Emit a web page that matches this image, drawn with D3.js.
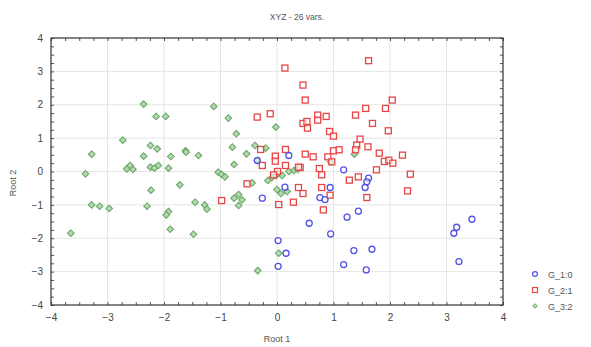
<!DOCTYPE html>
<html><head><meta charset="utf-8">
<script src="https://cdn.jsdelivr.net/npm/d3@7/dist/d3.min.js"></script>
<style>
html,body{margin:0;padding:0;background:#fff;}
svg{display:block;font-family:"Liberation Sans",Arial,sans-serif;}
</style></head>
<body><svg id="c" width="591" height="347"></svg>
<script>
const title = "XYZ - 26 vars.";
const xLabel = "Root 1";
const yLabel = "Root 2";
const xTicks = [-4,-3,-2,-1,0,1,2,3,4];
const yTicks = [-4,-3,-2,-1,0,1,2,3,4];
const groupNames = ["G_1:0","G_2:1","G_3:2"];

const g1x = [0.21,0.14,-0.26,0.57,0.02,0.16,0.02,1.18,1.62,1.59,1.56,0.94,0.76,0.85,1.44,1.24,0.95,1.36,1.68,1.18,1.58,3.45,3.18,3.13,3.22,-0.35];
const g1y = [0.48,-0.47,-0.80,-1.55,-2.07,-2.45,-2.84,0.05,-0.20,-0.31,-0.48,-0.48,-0.78,-0.84,-1.19,-1.37,-1.87,-2.37,-2.33,-2.79,-2.95,-1.43,-1.67,-1.85,-2.70,0.33];

const g2x = [-0.35,-0.12,0.14,0.46,0.50,2.04,1.62,1.57,1.92,0.72,0.87,0.72,1.39,0.46,0.53,0.54,1.69,0.93,1.00,1.97,1.47,1.41,1.39,1.61,1.00,1.10,0.50,0.64,0.90,0.97,1.81,2.22,1.90,1.98,2.05,0.41,0.75,0.79,1.76,2.36,1.44,1.28,0.38,0.46,0.79,0.94,1.59,2.31,0.82,-0.29,0.15,-0.03,-0.03,-0.26,0.15,0.38,0.01,-0.06,-0.53,-0.98,0.03,0.29];
const g2y = [1.63,1.73,3.10,2.59,2.14,2.14,3.32,1.89,1.89,1.69,1.65,1.54,1.69,1.44,1.50,1.30,1.44,1.20,1.06,1.22,0.97,0.79,0.65,0.74,0.62,0.65,0.52,0.44,0.44,0.29,0.55,0.49,0.30,0.34,0.25,0.12,0.09,-0.10,0.05,-0.08,-0.16,-0.26,-0.48,-0.66,-0.48,-0.71,-0.78,-0.58,-1.15,0.66,0.66,0.46,0.31,0.18,0.18,0.13,0.00,-0.10,-0.37,-0.87,-0.99,-0.92];

const g3x = [-2.36,-2.14,-1.97,-2.73,-3.28,-2.24,-2.12,-2.36,-1.88,-1.62,-1.61,-1.39,-3.39,-2.66,-2.60,-2.55,-2.24,-2.17,-2.10,-1.92,-1.72,-2.23,-3.28,-3.14,-2.97,-2.30,-1.92,-1.96,-1.89,-3.65,-1.45,-1.28,-1.24,-1.48,-1.12,-0.86,-0.72,-0.02,-0.79,-0.39,-0.54,-0.76,-0.20,-1.04,-0.98,-0.92,-0.44,-0.16,-0.09,-0.02,0.02,0.09,0.00,0.07,0.18,0.21,0.30,0.37,-0.76,-0.68,-0.62,-0.68,0.03,-0.34,1.37,0.95,-0.35];
const g3y = [2.02,1.65,1.65,0.94,0.52,0.78,0.68,0.46,0.45,0.62,0.58,0.48,-0.07,0.08,0.18,0.06,0.13,0.10,0.18,0.10,-0.40,-0.56,-1.00,-1.04,-1.11,-1.04,-1.20,-1.30,-1.73,-1.85,-0.92,-1.00,-1.13,-1.88,1.95,1.60,1.13,1.33,0.73,0.78,0.53,0.21,0.70,-0.02,-0.09,-0.16,-0.34,-0.27,-0.18,-0.12,-0.06,-0.12,-0.54,-0.66,-0.60,0.00,0.03,0.06,-0.80,-0.69,-0.85,-1.02,-2.45,-2.97,0.52,0.29,0.33];

const svg = d3.select("#c");
const L = 51, R = 503, T = 38, B = 305;
const x = d3.scaleLinear().domain([-4,4]).range([L,R]);
const y = d3.scaleLinear().domain([-4,4]).range([B,T]);

svg.append("rect").attr("width",591).attr("height",347).attr("fill","#fff");

svg.append("g").selectAll("line").data(xTicks.slice(1,-1)).join("line")
  .attr("x1",d=>x(d)).attr("x2",d=>x(d)).attr("y1",T).attr("y2",B)
  .attr("stroke","#e6e6e6").attr("stroke-width",1);
svg.append("g").selectAll("line").data(yTicks.slice(1,-1)).join("line")
  .attr("y1",d=>y(d)).attr("y2",d=>y(d)).attr("x1",L).attr("x2",R)
  .attr("stroke","#e6e6e6").attr("stroke-width",1);

const minor = d3.range(-4,4.001,0.25);
function tickAxis(axis){ return axis.tickValues(minor).tickSize(-3).tickFormat(""); }
[[d3.axisBottom(x),`translate(0,${B})`],[d3.axisTop(x),`translate(0,${T})`],
 [d3.axisLeft(y),`translate(${L},0)`],[d3.axisRight(y),`translate(${R},0)`]].forEach(([a,t])=>{
  const g = svg.append("g").attr("transform",t).call(tickAxis(a));
  g.select(".domain").remove();
  g.selectAll("line").attr("stroke","#555");
});

const xa = svg.append("g").attr("transform",`translate(0,${B})`)
  .call(d3.axisBottom(x).tickValues(xTicks).tickSize(0).tickPadding(9));
xa.select(".domain").remove();
const ya = svg.append("g").attr("transform",`translate(${L},0)`)
  .call(d3.axisLeft(y).tickValues(yTicks).tickSize(0).tickPadding(8));
ya.select(".domain").remove();
svg.selectAll(".tick text").attr("font-size",10).attr("fill","#444")
  .attr("font-family","'Liberation Sans',Arial,sans-serif");

svg.append("rect").attr("x",L).attr("y",T).attr("width",R-L).attr("height",B-T)
  .attr("fill","none").attr("stroke","#333").attr("stroke-width",1.2);

svg.append("text").attr("x",297).attr("y",20).attr("text-anchor","middle")
  .attr("font-size",8.5).attr("fill","#555").text(title);
svg.append("text").attr("x",277).attr("y",342).attr("text-anchor","middle")
  .attr("font-size",9).attr("fill","#555").text(xLabel);
svg.append("text").attr("transform","translate(16,183) rotate(-90)").attr("text-anchor","middle")
  .attr("font-size",9).attr("fill","#555").text(yLabel);

const diamond = "M0,-3.3L3.3,0L0,3.3L-3.3,0Z";
const gcol = {stroke:"#6aa86a", fill:"#b5d9b0"};
const rcol = "#e64646";
const bcol = "#5252e6";

svg.append("g").selectAll("path").data(d3.range(g3x.length)).join("path")
  .attr("d",diamond).attr("transform",i=>`translate(${x(g3x[i])},${y(g3y[i])})`)
  .attr("fill",gcol.fill).attr("stroke",gcol.stroke).attr("stroke-width",1.1);
svg.append("g").selectAll("rect").data(d3.range(g2x.length)).join("rect")
  .attr("x",i=>x(g2x[i])-3).attr("y",i=>y(g2y[i])-3).attr("width",6).attr("height",6)
  .attr("fill","#fff").attr("fill-opacity",0.6).attr("stroke",rcol).attr("stroke-width",1.3);
svg.append("g").selectAll("circle").data(d3.range(g1x.length)).join("circle")
  .attr("cx",i=>x(g1x[i])).attr("cy",i=>y(g1y[i])).attr("r",3)
  .attr("fill","#fff").attr("fill-opacity",0.5).attr("stroke",bcol).attr("stroke-width",1.3);

const lg = svg.append("g");
const ly = [274,290,306];
lg.append("circle").attr("cx",535).attr("cy",ly[0]).attr("r",2.4).attr("fill","#fff").attr("stroke",bcol).attr("stroke-width",1.2);
lg.append("rect").attr("x",532.5).attr("y",ly[1]-2.5).attr("width",5).attr("height",5).attr("fill","#fff").attr("stroke",rcol).attr("stroke-width",1.2);
lg.append("path").attr("d","M0,-2.3L2.3,0L0,2.3L-2.3,0Z").attr("transform",`translate(535,${ly[2]})`).attr("fill",gcol.fill).attr("stroke",gcol.stroke);
lg.selectAll("text").data(groupNames).join("text")
  .attr("x",548).attr("y",(d,i)=>ly[i]+3.5).attr("font-size",9).attr("fill","#555").text(d=>d);
</script></body></html>
